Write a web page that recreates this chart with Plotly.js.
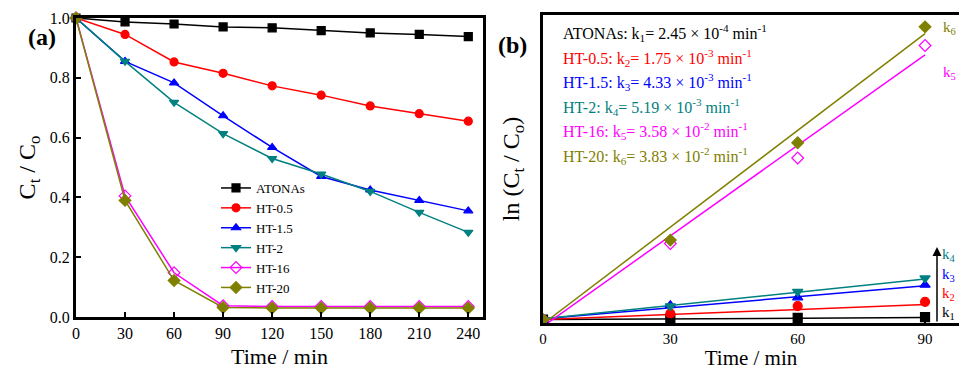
<!DOCTYPE html>
<html><head><meta charset="utf-8">
<script src="https://cdn.plot.ly/plotly-3.0.1.min.js"></script>
<style>html,body{margin:0;padding:0;background:#fff}#plot{width:959px;height:370px}</style>
</head><body><div id="plot"></div>
<script>
// Panel (a): Ct/Co vs time
const times = [0, 30, 60, 90, 120, 150, 180, 210, 240];
const atonas = [1.0, 0.987, 0.98, 0.97, 0.967, 0.958, 0.95, 0.945, 0.938];
const ht05 = [1.0, 0.945, 0.853, 0.815, 0.773, 0.742, 0.706, 0.68, 0.655];
const ht15 = [1.0, 0.855, 0.783, 0.673, 0.567, 0.47, 0.425, 0.39, 0.355];
const ht2 = [1.0, 0.855, 0.718, 0.613, 0.53, 0.478, 0.42, 0.35, 0.283];
const ht16 = [1.0, 0.405, 0.148, 0.038, 0.035, 0.035, 0.035, 0.035, 0.035];
const ht20 = [1.0, 0.39, 0.122, 0.032, 0.03, 0.03, 0.03, 0.03, 0.03];
const seriesNames = ["ATONAs", "HT-0.5", "HT-1.5", "HT-2", "HT-16", "HT-20"];

// Panel (b): kinetics points and fitted lines
const tKin = [0, 30, 60, 90];
const lnAtonas = [0, 0.01, 0.02, 0.03];
const lnHt05 = [0, 0.07, 0.16, 0.21];
const lnHt15 = [0, 0.17, 0.26, 0.41];
const lnHt2 = [0, 0.16, 0.33, 0.49];
const lnHt16 = [0, 0.90, 1.91, 3.24];
const lnHt20 = [0, 0.94, 2.09, 3.46];
const tFit = [0, 90];
const fit1 = [0.0, 0.025];
const fit2 = [0.0, 0.18];
const fit3 = [0.01, 0.40];
const fit4 = [0.01, 0.48];
const fit5 = [-0.08, 3.13];
const fit6 = [-0.05, 3.38];
const kTexts = [
  "ATONAs: k<sub>1</sub>= 2.45 × 10<sup>-4</sup> min<sup>-1</sup>",
  "HT-0.5: k<sub>2</sub>= 1.75 × 10<sup>-3</sup> min<sup>-1</sup>",
  "HT-1.5: k<sub>3</sub>= 4.33 × 10<sup>-3</sup> min<sup>-1</sup>",
  "HT-2: k<sub>4</sub>= 5.19 × 10<sup>-3</sup> min<sup>-1</sup>",
  "HT-16: k<sub>5</sub>= 3.58 × 10<sup>-2</sup> min<sup>-1</sup>",
  "HT-20: k<sub>6</sub>= 3.83 × 10<sup>-2</sup> min<sup>-1</sup>"
];

const colors = ["#000000", "#ff0000", "#0000ff", "#008080", "#ff00ff", "#808000"];
const symbols = ["square", "circle", "triangle-up", "triangle-down", "diamond-open", "diamond"];
const aData = [atonas, ht05, ht15, ht2, ht16, ht20];
const bData = [lnAtonas, lnHt05, lnHt15, lnHt2, lnHt16, lnHt20];
const bFit = [fit1, fit2, fit3, fit4, fit5, fit6];

const W = 959, H = 370;
const px = v => v / W;
const py = v => 1 - v / H;
const FONT = "Liberation Serif, Times New Roman, serif";

const traces = [];
aData.forEach((d, i) => {
  traces.push({
    x: times, y: d, name: seriesNames[i], type: "scatter", mode: "lines+markers",
    xaxis: "x", yaxis: "y",
    line: {color: colors[i], width: 1.5},
    marker: {symbol: symbols[i], size: i >= 4 ? 9 : 8, color: colors[i], line: {color: colors[i], width: 1.2}},
    cliponaxis: false
  });
});
bFit.forEach((d, i) => {
  traces.push({
    x: tFit, y: d, type: "scatter", mode: "lines", showlegend: false,
    xaxis: "x2", yaxis: "y2", line: {color: colors[i], width: 1.5}, hoverinfo: "skip"
  });
});
bData.forEach((d, i) => {
  traces.push({
    x: tKin, y: d, type: "scatter", mode: "markers", showlegend: false,
    xaxis: "x2", yaxis: "y2",
    marker: {symbol: symbols[i], size: 9, color: colors[i], line: {color: colors[i], width: 1.2}}
  });
});

const annotations = [
  {text: "<b>(a)</b>", x: px(26), y: py(22), xref: "paper", yref: "paper", showarrow: false, font: {family: FONT, size: 24, color: "#000"}},
  {text: "<b>(b)</b>", x: px(512), y: py(30), xref: "paper", yref: "paper", showarrow: false, font: {family: FONT, size: 24, color: "#000"}}
];
const kY = [33, 58, 82, 107, 131, 156];
kTexts.forEach((t, i) => {
  annotations.push({text: t, x: px(561), y: py(kY[i]), xref: "paper", yref: "paper", xanchor: "left", yanchor: "middle",
    showarrow: false, font: {family: FONT, size: 16, color: colors[i]}});
});
const kLabels = [["k<sub>6</sub>", 941, 28, 5], ["k<sub>5</sub>", 941, 73, 4], ["k<sub>4</sub>", 940, 255, 3], ["k<sub>3</sub>", 940, 275, 2], ["k<sub>2</sub>", 940, 294, 1], ["k<sub>1</sub>", 940, 313, 0]];
kLabels.forEach(k => {
  annotations.push({text: k[0], x: px(k[1]), y: py(k[2]), xref: "paper", yref: "paper", xanchor: "left", yanchor: "middle",
    showarrow: false, font: {family: FONT, size: 15, color: colors[k[3]]}});
});
annotations.push({text: "", x: px(937), y: py(247), xref: "paper", yref: "paper", showarrow: true,
  ax: 0, ay: 76, arrowhead: 2, arrowsize: 1.2, arrowwidth: 1.5, arrowcolor: "#000"});

const axisCommon = {
  showline: true, linecolor: "#000", linewidth: 3, showgrid: false, zeroline: false,
  ticks: "inside", ticklen: 5, tickwidth: 2, tickcolor: "#000",
  tickfont: {family: FONT, size: 16, color: "#000"}
};

const layout = {
  width: W, height: H,
  margin: {l: 0, r: 0, t: 0, b: 0},
  paper_bgcolor: "#fff", plot_bgcolor: "#fff",
  font: {family: FONT, color: "#000"},
  showlegend: true,
  legend: {x: px(216), y: py(173), xanchor: "left", yanchor: "top", bgcolor: "rgba(0,0,0,0)",
    font: {family: FONT, size: 13, color: "#000"}, tracegroupgap: 0, itemwidth: 30},
  xaxis: Object.assign({}, axisCommon, {
    domain: [px(76), px(483)], range: [0, 249], tickvals: times, ticktext: times.map(String),
    mirror: true, anchor: "y",
    title: {text: "Time / min", font: {family: FONT, size: 22, color: "#000"}, standoff: 8}
  }),
  yaxis: Object.assign({}, axisCommon, {
    domain: [1 - 317 / H, 1 - 18 / H], range: [0, 1], tickvals: [0, 0.2, 0.4, 0.6, 0.8, 1.0], tickformat: ".1f",
    mirror: true, anchor: "x",
    title: {text: "C<sub>t</sub> / C<sub>o</sub>", font: {family: FONT, size: 24, color: "#000"}, standoff: 8}
  }),
  xaxis2: Object.assign({}, axisCommon, {
    domain: [px(543), 1], range: [0, 98], tickvals: [0, 30, 60, 90], mirror: true, anchor: "y2",
    tickfont: {family: FONT, size: 15, color: "#000"},
    title: {text: "Time / min", font: {family: FONT, size: 21, color: "#000"}, standoff: 7}
  }),
  yaxis2: Object.assign({}, axisCommon, {
    domain: [1 - 323 / H, 1 - 15 / H], range: [-0.04, 3.6], showticklabels: false, ticks: "",
    mirror: false, anchor: "x2",
    title: {text: "ln (C<sub>t</sub> / C<sub>o</sub>)", font: {family: FONT, size: 24, color: "#000"}, standoff: 14}
  }),
  annotations: annotations
};

Plotly.newPlot("plot", traces, layout, {displayModeBar: false, staticPlot: true});
</script>
</body></html>
